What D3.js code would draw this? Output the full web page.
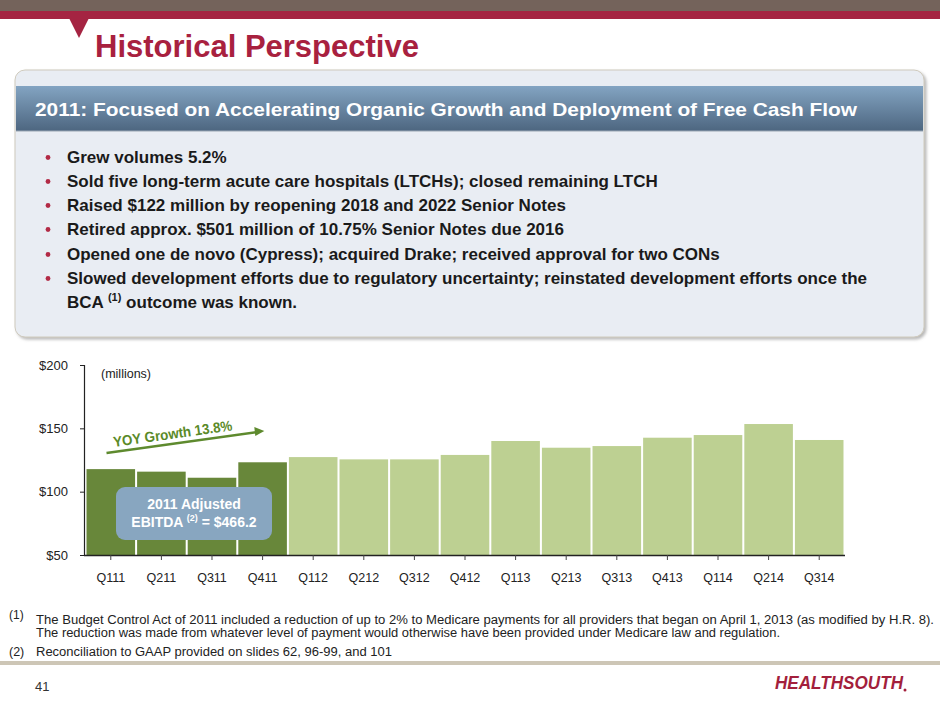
<!DOCTYPE html>
<html><head><meta charset="utf-8">
<script src="https://cdn.jsdelivr.net/npm/d3@7"></script>
<style>
html,body{margin:0;padding:0;background:#fff;}
svg{display:block;font-family:"Liberation Sans",Arial,sans-serif;}
</style></head>
<body>
<svg id="c" width="940" height="705"></svg>
<script>
// ---- data ----
const categories = ["Q111","Q211","Q311","Q411","Q112","Q212","Q312","Q412","Q113","Q213","Q313","Q413","Q114","Q214","Q314"];
const ebitda = [117.8,115.8,111.0,123.2,127.3,125.5,125.5,129.0,140.0,134.7,136.0,142.6,144.7,153.4,140.8];
const highlightYear = ["Q111","Q211","Q311","Q411"];
const yTicks = [50,100,150,200];
const title = "Historical Perspective";
const headerText = "2011: Focused on Accelerating Organic Growth and Deployment of Free Cash Flow";
const bullets = [
  "Grew volumes 5.2%",
  "Sold five long-term acute care hospitals (LTCHs); closed remaining LTCH",
  "Raised $122 million by reopening 2018 and 2022 Senior Notes",
  "Retired approx. $501 million of 10.75% Senior Notes due 2016",
  "Opened one de novo (Cypress); acquired Drake; received approval for two CONs",
  "Slowed development efforts due to regulatory uncertainty; reinstated development efforts once the"
];

const svg = d3.select("#c");
const defs = svg.append("defs");
const hg = defs.append("linearGradient").attr("id","hg").attr("x1",0).attr("y1",0).attr("x2",0).attr("y2",1);
hg.append("stop").attr("offset","0%").attr("stop-color","#83a4c2");
hg.append("stop").attr("offset","100%").attr("stop-color","#4d6680");
const sh = defs.append("filter").attr("id","sh").attr("x","-5%").attr("y","-5%").attr("width","110%").attr("height","115%");
sh.append("feDropShadow").attr("dx",2).attr("dy",2).attr("stdDeviation",1.5).attr("flood-color","#888").attr("flood-opacity",0.6);

// top bars
svg.append("rect").attr("x",0).attr("y",0).attr("width",940).attr("height",12).attr("fill","#74635b");
svg.append("rect").attr("x",0).attr("y",11).attr("width",940).attr("height",8).attr("fill","#a52442");
svg.append("path").attr("d","M69,18 L89,18 L79,38 Z").attr("fill","#a52442");
svg.append("text").attr("x",95).attr("y",57).attr("font-size",31).attr("font-weight","bold")
  .attr("fill","#a8213f").text(title);

// panel
svg.append("rect").attr("x",15).attr("y",70).attr("width",909).attr("height",267).attr("rx",10)
  .attr("fill","#e9edf3").attr("stroke","#cfcabd").attr("stroke-width",1).attr("filter","url(#sh)");
svg.append("rect").attr("x",16).attr("y",86).attr("width",907).attr("height",45).attr("fill","url(#hg)");
svg.append("line").attr("x1",16).attr("x2",923).attr("y1",131).attr("y2",131).attr("stroke","#9aa6b2").attr("stroke-width",1);
svg.append("text").attr("x",35).attr("y",116).attr("font-size",19).attr("font-weight","bold").attr("fill","#fff")
  .attr("textLength",822).attr("lengthAdjust","spacingAndGlyphs").text(headerText);

const by = [163,187,211,235,260,284];
bullets.forEach((b,i)=>{
  svg.append("circle").attr("cx",48).attr("cy",by[i]-5.5).attr("r",2.4).attr("fill","#b22a45");
  svg.append("text").attr("x",67).attr("y",by[i]).attr("font-size",17).attr("font-weight","bold").attr("fill","#1a1a1a")
    .text(b);
});
const last = svg.append("text").attr("x",67).attr("y",308).attr("font-size",17).attr("font-weight","bold").attr("fill","#1a1a1a");
last.append("tspan").text("BCA ");
last.append("tspan").attr("font-size",11).attr("dy",-7).text("(1)");
last.append("tspan").attr("dy",7).text(" outcome was known.");

// chart
const x = d3.scaleBand().domain(categories).range([86,844]).paddingInner(0.04).paddingOuter(0.01);
const y = d3.scaleLinear().domain([50,200]).range([555,365]);

svg.append("g").selectAll("rect").data(categories).join("rect")
  .attr("x",d=>x(d)).attr("width",x.bandwidth())
  .attr("y",(d,i)=>y(ebitda[i])).attr("height",(d,i)=>y(50)-y(ebitda[i]))
  .attr("fill",d=>highlightYear.includes(d)?"#68873a":"#bdd092");

const ya = svg.append("g").attr("transform","translate(84,0)")
  .call(d3.axisLeft(y).tickValues(yTicks).tickFormat(d=>"$"+d).tickSize(4).tickPadding(12));
ya.select(".domain").attr("stroke","#222").attr("stroke-width",1.2);
ya.selectAll("text").attr("font-size",13).attr("fill","#222").attr("font-family","Liberation Sans,Arial,sans-serif");
ya.selectAll(".tick line").attr("stroke","#222");

const xa = svg.append("g").attr("transform","translate(0,555)")
  .call(d3.axisBottom(x).tickSize(5).tickSizeOuter(0).tickPadding(13));
xa.select(".domain").attr("d","M84,0.5H845").attr("stroke","#222").attr("stroke-width",1.5);
xa.selectAll("text").attr("font-size",12.5).attr("fill","#222").attr("font-family","Liberation Sans,Arial,sans-serif");
xa.selectAll(".tick line").attr("stroke","#444");

svg.append("text").attr("x",101).attr("y",378).attr("font-size",12.5).attr("fill","#222").text("(millions)");

// YOY arrow
const ax0 = x("Q111")+20, ax1 = x("Q411")+26;
svg.append("line").attr("x1",ax0).attr("y1",453).attr("x2",ax1-8).attr("y2",432.2)
  .attr("stroke","#5e8a2e").attr("stroke-width",2.6);
svg.append("path").attr("d",`M${ax1},431 L${ax1-10},427 L${ax1-9},436 Z`).attr("fill","#5e8a2e");
svg.append("text").attr("transform","translate(114,447) rotate(-8)").attr("font-size",14.5).attr("font-weight","bold")
  .attr("fill","#5a8a28").attr("textLength",120).attr("lengthAdjust","spacingAndGlyphs").text("YOY Growth 13.8%");

// callout
svg.append("rect").attr("x",116).attr("y",487).attr("width",156).attr("height",53).attr("rx",9).attr("fill","#88a6c0");
svg.append("text").attr("x",194).attr("y",509).attr("text-anchor","middle").attr("font-size",14).attr("font-weight","bold")
  .attr("fill","#fff").text("2011 Adjusted");
const ct = svg.append("text").attr("x",194).attr("y",527).attr("text-anchor","middle").attr("font-size",14).attr("font-weight","bold").attr("fill","#fff");
ct.append("tspan").text("EBITDA ");
ct.append("tspan").attr("font-size",9).attr("dy",-6).text("(2)");
ct.append("tspan").attr("dy",6).text(" = $466.2");

// footnotes
const fn = "Liberation Sans Narrow, Liberation Sans, Arial, sans-serif";
svg.append("text").attr("x",9).attr("y",619).attr("font-size",12).attr("font-family",fn).attr("fill","#222").text("(1)");
svg.append("text").attr("x",36).attr("y",624).attr("font-size",12.5).attr("font-family",fn).attr("fill","#222")
  .attr("textLength",898).attr("lengthAdjust","spacingAndGlyphs")
  .text("The Budget Control Act of 2011 included a reduction of up to 2% to Medicare payments for all providers that began on April 1, 2013 (as modified by H.R. 8).");
svg.append("text").attr("x",36).attr("y",637).attr("font-size",12.5).attr("font-family",fn).attr("fill","#222")
  .attr("textLength",744).attr("lengthAdjust","spacingAndGlyphs")
  .text("The reduction was made from whatever level of payment would otherwise have been provided under Medicare law and regulation.");
svg.append("text").attr("x",9).attr("y",656).attr("font-size",12.5).attr("font-family",fn).attr("fill","#222").text("(2)");
svg.append("text").attr("x",36).attr("y",656).attr("font-size",12.5).attr("font-family",fn).attr("fill","#222")
  .attr("textLength",356).attr("lengthAdjust","spacingAndGlyphs")
  .text("Reconciliation to GAAP provided on slides 62, 96-99, and 101");

svg.append("rect").attr("x",0).attr("y",661).attr("width",940).attr("height",4).attr("fill","#cdc6b6");
svg.append("text").attr("x",35).attr("y",691).attr("font-size",13).attr("fill","#333").text("41");
svg.append("text").attr("x",775).attr("y",689).attr("font-size",19).attr("font-weight","bold").attr("font-style","italic")
  .attr("fill","#a31f3c").attr("textLength",128).attr("lengthAdjust","spacingAndGlyphs").text("HEALTHSOUTH");
svg.append("circle").attr("cx",905).attr("cy",690).attr("r",1.5).attr("fill","#a31f3c");
</script>
</body></html>
